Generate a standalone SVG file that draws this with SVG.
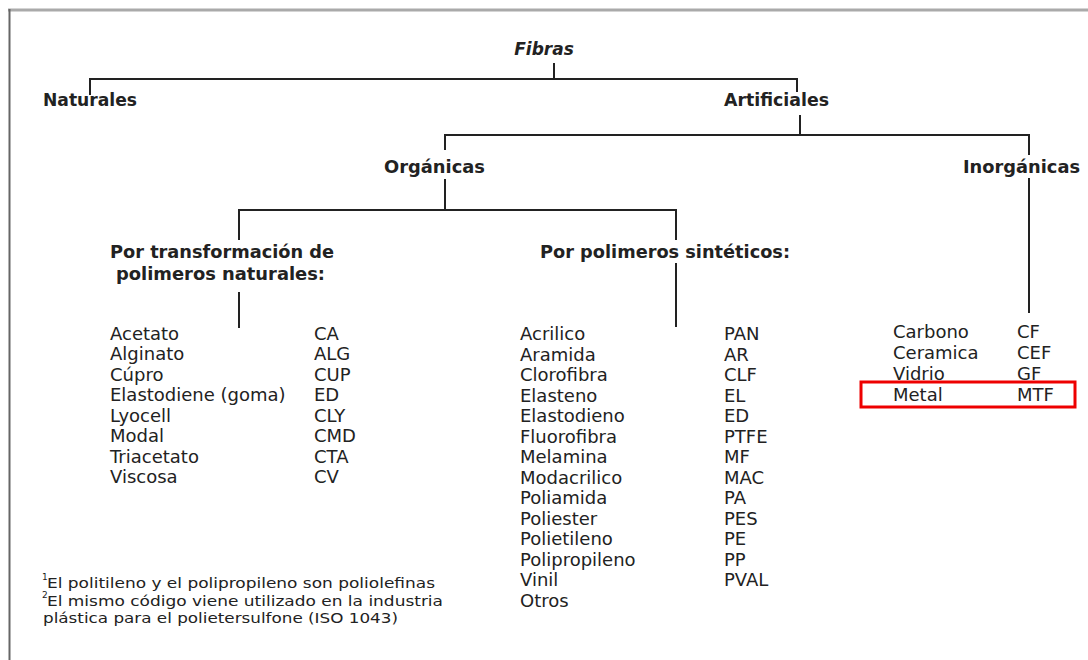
<svg xmlns="http://www.w3.org/2000/svg" width="1088" height="660" viewBox="0 0 1088 660">
<style>
.t{font-family:"DejaVu Sans","Liberation Sans",sans-serif;fill:#222}
.h{font-weight:bold;font-size:17px}
.l{font-size:18px}
.f{font-size:14.5px}
.s{font-size:9px}
.c{stroke:#222;stroke-width:2;fill:none}
</style>
<rect x="0" y="0" width="1088" height="660" fill="#fff"/>
<g id="frame">
<line x1="8" y1="10" x2="1088" y2="10" stroke="#aaa" stroke-width="3"/>
<line x1="9.5" y1="9" x2="9.5" y2="660" stroke="#666" stroke-width="2"/>
</g>
<g id="connectors" class="c">
<path d="M554 63V79M90 95V79H797V92"/>
<path d="M800 115V135M445 150V135H1029V155"/>
<path d="M445 179V210M239 240V210H676V240"/>
<path d="M239 292V328M676 263V327M1029 178V313"/>
</g>
<g id="fibras"><text class="t h" x="544" y="55" text-anchor="middle" font-style="italic">Fibras</text></g>
<g id="naturales"><text class="t h" x="43" y="106" textLength="94" lengthAdjust="spacingAndGlyphs">Naturales</text></g>
<g id="artificiales"><text class="t h" x="724" y="106" textLength="105" lengthAdjust="spacingAndGlyphs">Artificiales</text></g>
<g id="organicas"><text class="t h" x="384" y="173" textLength="101" lengthAdjust="spacingAndGlyphs">Orgánicas</text></g>
<g id="inorganicas"><text class="t h" x="963" y="173" textLength="117" lengthAdjust="spacingAndGlyphs">Inorgánicas</text></g>
<g id="transformacion">
<text class="t h" x="110" y="258" textLength="224" lengthAdjust="spacingAndGlyphs">Por transformación de</text>
<text class="t h" x="116" y="280" textLength="209" lengthAdjust="spacingAndGlyphs">polimeros naturales:</text>
</g>
<g id="sinteticos"><text class="t h" x="540" y="258" textLength="250" lengthAdjust="spacingAndGlyphs">Por polimeros sintéticos:</text></g>
<g id="lista-naturales" class="t l">
<text x="110" y="339.5">Acetato</text>
<text x="110" y="360">Alginato</text>
<text x="110" y="380.5">Cúpro</text>
<text x="110" y="401">Elastodiene (goma)</text>
<text x="110" y="421.5">Lyocell</text>
<text x="110" y="442">Modal</text>
<text x="110" y="462.5">Triacetato</text>
<text x="110" y="483">Viscosa</text>
<text x="314" y="339.5">CA</text>
<text x="314" y="360">ALG</text>
<text x="314" y="380.5">CUP</text>
<text x="314" y="401">ED</text>
<text x="314" y="421.5">CLY</text>
<text x="314" y="442">CMD</text>
<text x="314" y="462.5">CTA</text>
<text x="314" y="483">CV</text>
</g>
<g id="lista-sinteticos" class="t l">
<text x="520" y="340">Acrilico</text>
<text x="520" y="360.5">Aramida</text>
<text x="520" y="381">Clorofibra</text>
<text x="520" y="401.5">Elasteno</text>
<text x="520" y="422">Elastodieno</text>
<text x="520" y="442.5">Fluorofibra</text>
<text x="520" y="463">Melamina</text>
<text x="520" y="483.5">Modacrilico</text>
<text x="520" y="504">Poliamida</text>
<text x="520" y="524.5">Poliester</text>
<text x="520" y="545">Polietileno</text>
<text x="520" y="565.5">Polipropileno</text>
<text x="520" y="586">Vinil</text>
<text x="520" y="606.5">Otros</text>
<text x="724" y="340">PAN</text>
<text x="724" y="360.5">AR</text>
<text x="724" y="381">CLF</text>
<text x="724" y="401.5">EL</text>
<text x="724" y="422">ED</text>
<text x="724" y="442.5">PTFE</text>
<text x="724" y="463">MF</text>
<text x="724" y="483.5">MAC</text>
<text x="724" y="504">PA</text>
<text x="724" y="524.5">PES</text>
<text x="724" y="545">PE</text>
<text x="724" y="565.5">PP</text>
<text x="724" y="586">PVAL</text>
</g>
<g id="lista-inorganicas" class="t l">
<text x="893" y="338">Carbono</text>
<text x="893" y="359">Ceramica</text>
<text x="893" y="380">Vidrio</text>
<text x="893" y="401">Metal</text>
<text x="1017" y="338">CF</text>
<text x="1017" y="359">CEF</text>
<text x="1017" y="380">GF</text>
<text x="1017" y="401">MTF</text>
</g>
<g id="resaltado"><rect x="861" y="382" width="214" height="25" fill="none" stroke="#e00" stroke-width="3"/></g>
<g id="notas" class="t">
<text class="s" x="42" y="580">1</text>
<text class="f" x="47" y="588" textLength="388" lengthAdjust="spacingAndGlyphs">El politileno y el polipropileno son poliolefinas</text>
<text class="s" x="42" y="598">2</text>
<text class="f" x="47" y="605.5" textLength="396" lengthAdjust="spacingAndGlyphs">El mismo código viene utilizado en la industria</text>
<text class="f" x="43" y="623" textLength="355" lengthAdjust="spacingAndGlyphs">plástica para el polietersulfone (ISO 1043)</text>
</g>
</svg>
